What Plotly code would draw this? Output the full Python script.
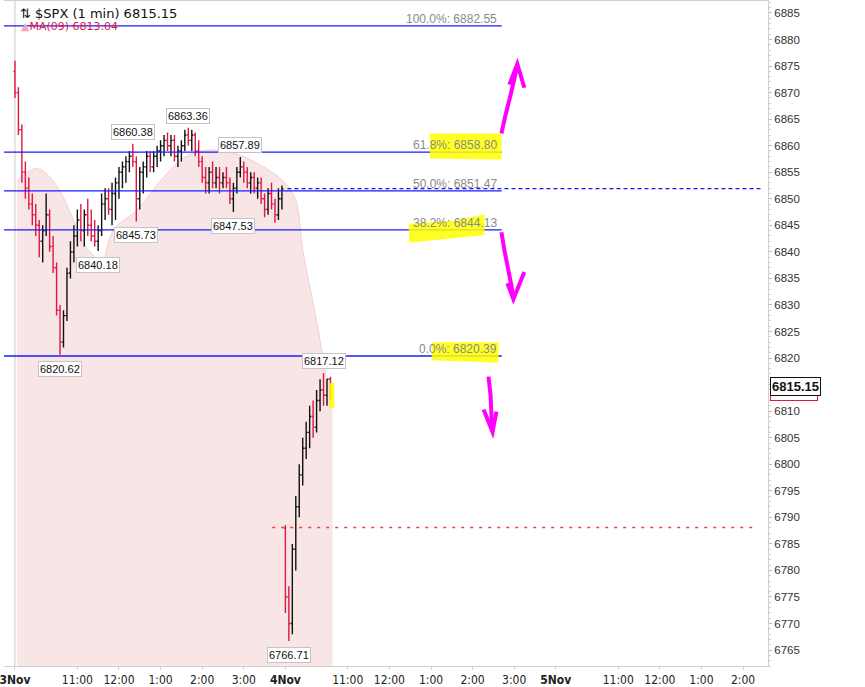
import plotly.graph_objects as go

# ------------------------------------------------------------------ data
# 3 Nov (5-minute aggregation of the 1-min chart), minutes after 9:30
d1_open = [6874, 6870, 6863, 6855, 6852, 6849, 6847, 6845, 6842, 6844,
           6847, 6841, 6837, 6829, 6823, 6828, 6836, 6840, 6843, 6846,
           6844, 6847, 6845, 6843, 6842, 6844, 6849, 6850, 6848, 6851,
           6853, 6855, 6856, 6857, 6858, 6857, 6850, 6855, 6856, 6858,
           6856, 6858, 6859, 6860, 6861, 6860, 6861, 6858, 6859, 6860,
           6862, 6861, 6862, 6859, 6857, 6854, 6853, 6855, 6853, 6854,
           6853, 6854, 6853, 6850, 6852, 6855, 6856, 6855, 6853, 6854,
           6852, 6853, 6850, 6848, 6851, 6849, 6847, 6850]
d1_high = [6876, 6871, 6864, 6857, 6854, 6851, 6849, 6846, 6845, 6851,
           6848, 6843, 6838, 6830, 6829, 6837, 6842, 6845, 6848, 6849,
           6848, 6850, 6848, 6846, 6845, 6851, 6852, 6852, 6853, 6854,
           6856, 6857, 6858, 6859, 6860.38, 6858, 6856, 6857, 6859, 6859,
           6859, 6860, 6861, 6862, 6862.5, 6862, 6862, 6860, 6861, 6863,
           6863.36, 6863, 6862.5, 6861, 6858, 6856, 6856, 6857, 6856, 6856,
           6855, 6856, 6854, 6853, 6856, 6857.89, 6857, 6856, 6855, 6855,
           6854, 6854, 6851, 6852, 6853, 6850, 6852, 6852.5]
d1_low = [6869, 6862, 6853, 6850, 6848, 6845, 6843, 6839, 6838, 6843,
          6840, 6836, 6828, 6820.62, 6822, 6827, 6835, 6838, 6841, 6842,
          6841, 6843, 6842, 6841, 6840.18, 6843, 6846, 6847, 6845, 6846,
          6850, 6852, 6853, 6855, 6856, 6845.73, 6848, 6851, 6854, 6855,
          6855, 6856, 6857, 6858, 6859, 6858, 6857, 6856, 6857, 6859,
          6860, 6859, 6858, 6856, 6853, 6851, 6851, 6852, 6852, 6851,
          6852, 6852, 6849, 6847.53, 6851, 6854, 6853, 6852, 6851, 6851,
          6850, 6849, 6846.5, 6847, 6848, 6845.5, 6846, 6848]
d1_close = [6870, 6863, 6855, 6852, 6849, 6847, 6845, 6842, 6844, 6847,
            6841, 6837, 6829, 6823, 6828, 6836, 6840, 6843, 6846, 6844,
            6847, 6845, 6843, 6842, 6844, 6849, 6850, 6848, 6851, 6853,
            6855, 6856, 6857, 6858, 6857, 6850, 6855, 6856, 6858, 6856,
            6858, 6859, 6860, 6861, 6860, 6861, 6858, 6859, 6860, 6862,
            6861, 6862, 6859, 6857, 6854, 6853, 6855, 6853, 6854, 6853,
            6854, 6853, 6850, 6852, 6855, 6856, 6855, 6853, 6854, 6852,
            6853, 6850, 6848, 6851, 6849, 6847, 6850, 6851.9]

# 4 Nov, minutes after 9:30 of that day
d2_open = [6788, 6775, 6770, 6784, 6792, 6798, 6803, 6806, 6809, 6807, 6812, 6814, 6813, 6816]
d2_high = [6788.5, 6777, 6785, 6794, 6800, 6805, 6808, 6811, 6812, 6814, 6816, 6817.12, 6816, 6816.5]
d2_low = [6772, 6766.71, 6768, 6780, 6790, 6796, 6801, 6803, 6805, 6806, 6810, 6811, 6811, 6812]
d2_close = [6775, 6770, 6784, 6792, 6798, 6803, 6806, 6809, 6807, 6812, 6814, 6813, 6816, 6815.15]

bar_step = 5            # minutes per drawn bar
session_len = 390       # minutes per trading session

# MA(09) curve (trading minutes since 3 Nov 9:30)
ma_minute = [3, 32, 60, 80, 99, 118, 123, 142, 175, 214, 242, 271, 318, 367,
             390, 405, 415, 429, 440, 450, 458]
ma_value = [6853.4, 6855.7, 6852.5, 6847.3, 6841.6, 6838.4, 6836.2, 6844.1,
            6847.8, 6854.0, 6857.6, 6859.1, 6858.5, 6855.3, 6852.9, 6849.7,
            6840.3, 6831.0, 6823.4, 6816.0, 6813.04]

# Fibonacci retracement
fib_pct = ["100.0%", "61.8%", "50.0%", "38.2%", "0.0%"]
fib_val = [6882.55, 6858.80, 6851.47, 6844.13, 6820.39]

prev_close = 6851.9
red_level = 6788.1
last_price = 6815.15
ma_last = 6813.04

high_labels = [6860.38, 6863.36, 6857.89, 6817.12]
low_labels = [6820.62, 6840.18, 6845.73, 6847.53, 6766.71]

tick_minute = [0, 90, 150, 210, 270, 330, 390, 480, 540, 600, 660, 720,
               780, 870, 930, 990, 1050]
tick_text = ["<b>3Nov</b>", "11:00", "12:00", "1:00", "2:00", "3:00",
             "<b>4Nov</b>", "11:00", "12:00", "1:00", "2:00", "3:00",
             "<b>5Nov</b>", "11:00", "12:00", "1:00", "2:00"]

# ------------------------------------------------------------------ build
x1 = [i * bar_step for i in range(len(d1_open))]
x2 = [session_len + i * bar_step for i in range(len(d2_open))]
xs = x1 + x2
o = d1_open + d2_open
h = d1_high + d2_high
l = d1_low + d2_low
c = d1_close + d2_close

X_RANGE = [-15.8, 1086]
Y_RANGE = [6762.0, 6887.25]
FIB_END = 702

fig = go.Figure()

fig.add_trace(go.Scatter(
    x=ma_minute, y=ma_value, mode="lines", line=dict(color="#f3cfd2", width=1, shape="spline", smoothing=1),
    fill="tozeroy", fillcolor="#f8e5e6", hoverinfo="skip", showlegend=False))

# bars on an overlaying y axis (same scale) so they sit above the MA area
fig.add_trace(go.Ohlc(
    x=xs, open=o, high=h, low=l, close=c, yaxis="y2",
    increasing=dict(line=dict(color="#111111", width=1.4)),
    decreasing=dict(line=dict(color="#e0173f", width=1.4)),
    tickwidth=0.45, showlegend=False))

shapes = []
# day separator
shapes.append(dict(type="line", xref="x", yref="paper", x0=0, x1=0, y0=0, y1=1,
                   line=dict(color="#c8c8c8", width=1), layer="below"))
# fib lines
for v in fib_val:
    shapes.append(dict(type="line", xref="x", yref="y", x0=X_RANGE[0], x1=FIB_END, y0=v, y1=v,
                       line=dict(color="#1a1aff", width=1.3), layer="above"))
shapes.append(dict(type="line", xref="x", yref="y", x0=393, x1=1077, y0=prev_close, y1=prev_close,
                   line=dict(color="#1a1aff", width=1.2, dash="4px,3px"), layer="above"))
shapes.append(dict(type="line", xref="x", yref="y", x0=371, x1=1067, y0=red_level, y1=red_level,
                   line=dict(color="#ff3b3b", width=1.6, dash="3px,6px"), layer="above"))


def poly(pts, close=True):
    s = "M " + " L ".join(f"{a},{b}" for a, b in pts)
    return s + (" Z" if close else "")


yellow = [
    [(598.3, 6862.3), (701.6, 6862.3), (701.6, 6857.4), (598.3, 6857.6)],
    [(568.1, 6845.3), (637.0, 6845.9), (677.2, 6847.1), (677.2, 6843.2), (568.1, 6841.7)],
    [(601.1, 6823.0), (697.3, 6823.0), (697.3, 6819.1), (601.1, 6819.6)],
    [(453.4, 6815.3), (460.5, 6815.3), (460.5, 6810.6), (453.4, 6810.6)],
]
for pts in yellow:
    shapes.append(dict(type="path", xref="x", yref="y", path=poly(pts), fillcolor="rgba(255,255,0,0.85)",
                       line=dict(width=0), layer="above"))

arrows = [
    ([(701.6, 6862.3), (707.3, 6865.7), (714.5, 6869.4), (720.2, 6872.6), (724.5, 6875.2)],
     [(713.0, 6871.5), (724.5, 6875.4), (734.6, 6870.9)]),
    ([(701.6, 6843.7), (705.9, 6840.3), (711.6, 6836.5), (715.9, 6833.7), (718.8, 6831.3)],
     [(710.2, 6834.1), (718.8, 6831.1), (734.6, 6836.2)]),
    ([(682.9, 6816.5), (685.8, 6813.1), (687.2, 6809.3), (688.7, 6806.1)],
     [(675.8, 6810.3), (688.7, 6806.1), (694.4, 6809.9)]),
]
for stroke, head in arrows:
    for pts in (stroke, head):
        shapes.append(dict(type="path", xref="x", yref="y", path=poly(pts, close=False),
                           line=dict(color="#ff00ff", width=4), layer="above"))

annotations = []
# fib labels
for p, v in zip(fib_pct, fib_val):
    annotations.append(dict(x=FIB_END, y=v, xref="x", yref="y", text=f"{p}: {v:.2f}", showarrow=False,
                            xanchor="right", yanchor="bottom", xshift=-3, yshift=-2,
                            font=dict(family="Liberation Sans, Arial", size=12, color="#8a8a8a")))

box_font = dict(family="Liberation Sans, Arial", size=11, color="#111")
for v in high_labels:
    i = h.index(v)
    annotations.append(dict(x=xs[i], y=v, xref="x", yref="y", text=f"{v:.2f}", showarrow=False,
                            yanchor="bottom", yshift=4, bgcolor="white", bordercolor="#c4c4c4",
                            borderwidth=1, borderpad=1, font=box_font))
for v in low_labels:
    i = l.index(v)
    annotations.append(dict(x=xs[i], y=v, xref="x", yref="y", text=f"{v:.2f}", showarrow=False,
                            yanchor="top", yshift=-6, bgcolor="white", bordercolor="#c4c4c4",
                            borderwidth=1, borderpad=1, font=box_font))

# header
annotations.append(dict(xref="paper", yref="paper", x=0.018, y=0.981, xanchor="left", yanchor="middle",
                        text=f"⇅ $SPX (1 min) {last_price:.2f}", showarrow=False,
                        font=dict(family="DejaVu Sans", size=13, color="#111")))
annotations.append(dict(xref="paper", yref="paper", x=0.02, y=0.962, xanchor="left", yanchor="middle",
                        text=f"<span style='color:#f2a9b8'>▲</span>MA(09) {ma_last:.2f}", showarrow=False,
                        font=dict(family="DejaVu Sans", size=11, color="#e0173f")))
# right-side price tags (MA tag mostly hidden behind the price tag)
annotations.append(dict(xref="paper", yref="y", x=1.003, y=ma_last + 0.5, xanchor="left", yanchor="middle",
                        text=f"<b>{ma_last:.2f}</b>", showarrow=False, bgcolor="white", bordercolor="#e0173f",
                        borderwidth=1, borderpad=1, font=dict(family="Liberation Sans, Arial", size=12, color="#999")))
annotations.append(dict(xref="paper", yref="y", x=1.003, y=last_price - 0.6, xanchor="left", yanchor="middle",
                        text=f"<b>{last_price:.2f}</b>", showarrow=False, bgcolor="white", bordercolor="#111",
                        borderwidth=1, borderpad=1, font=dict(family="Liberation Sans, Arial", size=13, color="#111")))

fig.update_layout(
    width=865, height=687,
    margin=dict(l=0, r=97, t=0, b=20),
    paper_bgcolor="white", plot_bgcolor="white",
    shapes=shapes, annotations=annotations,
    showlegend=False,
    xaxis=dict(range=X_RANGE, tickvals=tick_minute, ticktext=tick_text, showgrid=False, zeroline=False,
               showline=True, linecolor="#cfcfcf", mirror=True, ticks="outside", ticklen=3,
               tickcolor="#cfcfcf", ticklabeloverflow="allow",
               tickfont=dict(family="Liberation Sans Narrow, DejaVu Sans Condensed, Arial", size=12, color="#222"),
               rangeslider=dict(visible=False), fixedrange=True),
    yaxis=dict(range=Y_RANGE, side="right", tick0=6765, dtick=5, showgrid=False, zeroline=False,
               showline=True, linecolor="#cfcfcf", ticks="outside", ticklen=3, tickcolor="#bbbbbb",
               minor=dict(dtick=1, ticks="outside", ticklen=2, tickcolor="#d0d0d0"),
               tickfont=dict(family="Liberation Sans, Arial", size=11.5, color="#333"), fixedrange=True),
    yaxis2=dict(range=Y_RANGE, overlaying="y", side="right", visible=False, fixedrange=True),
)

fig.write_html("out.html", config={"displayModeBar": False},
               post_script="document.body.style.margin='0px';")
